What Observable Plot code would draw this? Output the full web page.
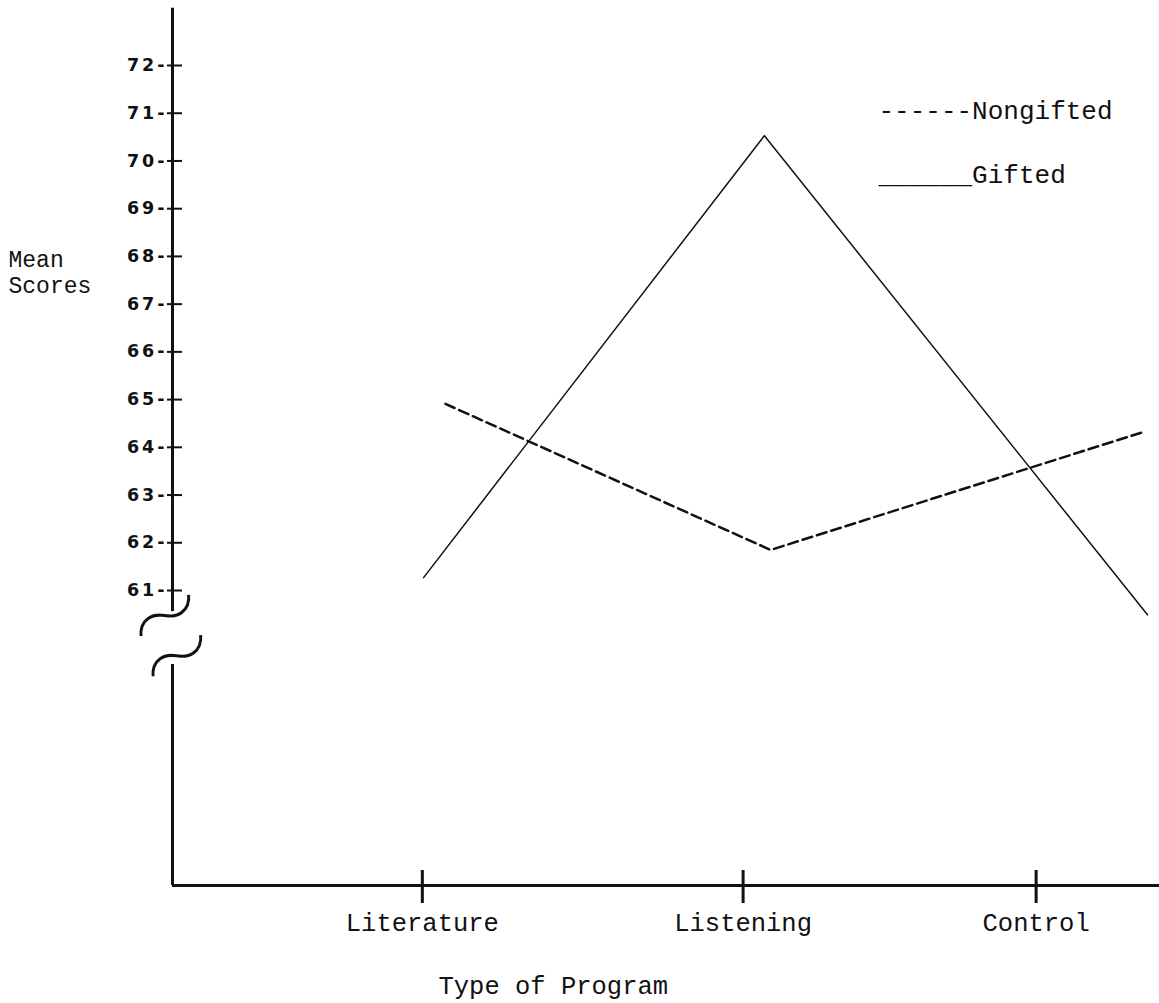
<!DOCTYPE html>
<html><head><meta charset="utf-8">
<script src="https://cdn.jsdelivr.net/npm/d3@7"></script>
<script src="https://cdn.jsdelivr.net/npm/@observablehq/plot@0.6"></script>
<style>
html,body{margin:0;padding:0;background:#fff;}
#chart svg{display:block;}
g[aria-label="y-axis tick label"] text{letter-spacing:3px;}
</style></head><body><div id="chart"></div>
<script>
// ---- data ----
const programs = ["Literature", "Listening", "Control"];
const programPos = [1.01, 2.05, 3.0];           // where each program's tick sits on the x axis
const yTicks = [61, 62, 63, 64, 65, 66, 67, 68, 69, 70, 71, 72];
const seriesNames = ["Nongifted", "Gifted"];
const nongiftedX = [1.085, 2.139, 3.342];
const nongiftedY = [64.91, 61.85, 64.31];
const giftedX = [1.014, 2.119, 3.361];
const giftedY = [61.27, 70.53, 60.49];
const legendPrefix = ["------", "______"];
const yLabel = "Mean\nScores";
const xLabel = "Type of Program";

// ---- scale setup ----
const W = 1159, H = 1003, ML = 172;
const xMin = 0.2, xMax = 3.4;
const yMin = 54.819, yMax = 73.362, yAxisTop = 73.2;
const breakTop = 60.48, breakBottom = 59.45;

const rows = [
  ...nongiftedX.map((x, i) => ({series: seriesNames[0], x, y: nongiftedY[i]})),
  ...giftedX.map((x, i) => ({series: seriesNames[1], x, y: giftedY[i]}))
];

const mono = "'Liberation Mono', 'DejaVu Sans Mono', monospace";
const ink = "#111";
const wave = {frameAnchor: "left", text: () => "\u301C", fontSize: 76, textAnchor: "middle",
  fontFamily: "'Noto Sans CJK JP', sans-serif", rotate: -35, lineAnchor: "middle", fill: ink,
  stroke: "#fff", strokeWidth: 3, paintOrder: "normal"};

const chart = Plot.plot({
  width: W, height: H,
  marginLeft: ML, marginRight: 0, marginTop: 0, marginBottom: 118,
  style: {fontFamily: mono, color: ink, background: "#fff", overflow: "visible"},
  x: {type: "linear", domain: [xMin, xMax]},
  y: {domain: [yMin, yMax]},
  marks: [
    // broken y axis line
    Plot.ruleX([xMin], {y1: breakTop, y2: yAxisTop, strokeWidth: 3, stroke: ink}),
    Plot.ruleX([xMin], {y1: yMin, y2: breakBottom, strokeWidth: 3, stroke: ink}),
    // x axis line
    Plot.ruleY([yMin], {x1: xMin, x2: xMax, strokeWidth: 3, stroke: ink}),
    // y tick labels
    Plot.axisY({ticks: yTicks, tickSize: 0, tickPadding: 5, label: null,
      tickFormat: d => `${d}-`, fontFamily: "'DejaVu Sans', sans-serif",
      fontWeight: "bold", fontSize: 17.5}),
    // y ticks crossing the axis
    Plot.ruleY(yTicks, {insetLeft: -5, insetRight: W - ML - 10, strokeWidth: 2, stroke: ink}),
    // x ticks crossing the axis
    Plot.axisX({ticks: programPos, fill: "none", tickSize: 33, dy: -15, strokeWidth: 3, label: null}),
    // x tick labels
    Plot.axisX({ticks: programPos, tickSize: 0, tickPadding: 27, label: null, fontSize: 25.5,
      tickFormat: d => programs[programPos.indexOf(d)]}),
    // axis break squiggles
    Plot.text([breakTop], {...wave, y: d => d, dx: -5, dy: 4}),
    Plot.text([breakBottom], {...wave, y: d => d, dx: 7, dy: -5}),
    // data
    Plot.line(rows.filter(d => d.series === seriesNames[0]), {x: "x", y: "y",
      stroke: ink, strokeWidth: 2.5, strokeDasharray: "10,5"}),
    Plot.line(rows.filter(d => d.series === seriesNames[1]), {x: "x", y: "y",
      stroke: ink, strokeWidth: 1.5}),
    // legend (typed)
    Plot.text([legendPrefix[0] + seriesNames[0]], {frameAnchor: "top-left", text: d => d,
      dx: 706, dy: 118, textAnchor: "start", lineAnchor: "bottom", fontSize: 26}),
    Plot.text([legendPrefix[1] + seriesNames[1]], {frameAnchor: "top-left", text: d => d,
      dx: 706, dy: 182, textAnchor: "start", lineAnchor: "bottom", fontSize: 26}),
    // y label
    Plot.text([yLabel], {frameAnchor: "top-left", text: d => d, dx: -164, dy: 292,
      textAnchor: "start", lineAnchor: "bottom", lineHeight: 1.1, fontSize: 23}),
    // x label
    Plot.text([xLabel], {frameAnchor: "bottom-left", text: d => d, dx: 266, dy: 108,
      textAnchor: "start", lineAnchor: "bottom", fontSize: 25.5})
  ]
});
document.getElementById("chart").append(chart);
</script></body></html>
